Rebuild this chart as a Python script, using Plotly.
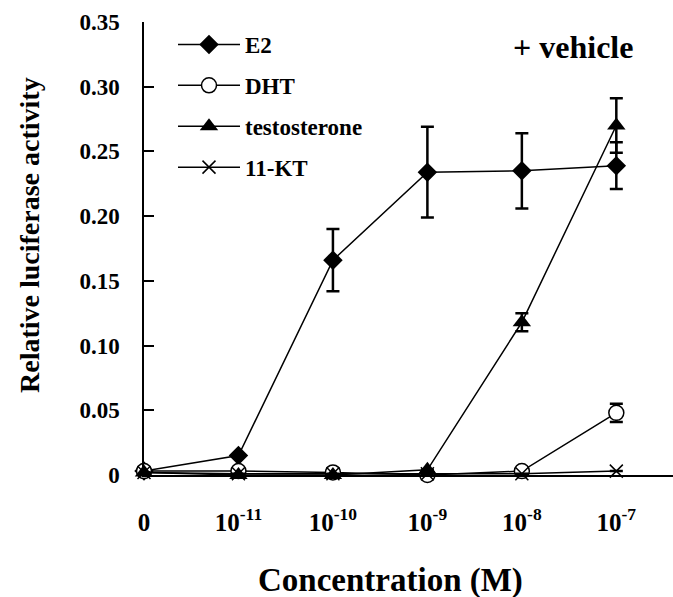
import plotly.graph_objects as go

# Concentration steps (category positions on the x axis)
conc_labels = ["0", "10<sup>-11</sup>", "10<sup>-10</sup>", "10<sup>-9</sup>",
               "10<sup>-8</sup>", "10<sup>-7</sup>"]
conc_pos = [0, 1, 2, 3, 4, 5]

# Relative luciferase activity per ligand (mean and error)
e2_mean = [0.003, 0.015, 0.166, 0.234, 0.235, 0.239]
e2_err = [0.0, 0.0, 0.024, 0.035, 0.029, 0.018]
dht_mean = [0.003, 0.003, 0.002, 0.000, 0.003, 0.048]
dht_err = [0.0, 0.0, 0.0, 0.0, 0.0, 0.007]
testo_mean = [0.002, 0.000, 0.000, 0.004, 0.118, 0.270]
testo_err = [0.0, 0.0, 0.0, 0.0, 0.007, 0.021]
kt_mean = [0.002, 0.001, 0.001, 0.001, 0.001, 0.003]
kt_err = [0.0, 0.0, 0.0, 0.0, 0.0, 0.0]

y_ticks = [0, 0.05, 0.10, 0.15, 0.20, 0.25, 0.30, 0.35]
y_tick_text = ["0", "0.05", "0.10", "0.15", "0.20", "0.25", "0.30", "0.35"]

W, H = 673, 597
M_L, M_R, M_T, M_B = 144, 0, 22, 122
FONT = "Liberation Serif"


def px_to_paper(px, py):
    pw = W - M_L - M_R
    ph = H - M_T - M_B
    return (px - M_L) / pw, (H - M_B - py) / ph


series = [
    ("E2", e2_mean, e2_err, dict(symbol="diamond", size=15, color="black",
                                  line=dict(color="black", width=0))),
    ("DHT", dht_mean, dht_err, dict(symbol="circle", size=15, color="white",
                                     line=dict(color="black", width=1.5))),
    ("testosterone", testo_mean, testo_err, dict(symbol="triangle-up", size=16,
                                                  color="black",
                                                  line=dict(color="black", width=0))),
    ("11-KT", kt_mean, kt_err, dict(symbol="x-thin", size=13, color="black",
                                     line=dict(color="black", width=1.5))),
]

fig = go.Figure()
for i, (name, mean, err, marker) in enumerate(series):
    fig.add_trace(go.Scatter(
        x=conc_pos, y=mean, name=name, mode="lines+markers",
        legendgroup=name,
        line=dict(color="black", width=1.5),
        marker=marker,
        error_y=dict(type="data", array=err, visible=True, color="black",
                     thickness=2.5, width=6.5),
        cliponaxis=False,
    ))

lx, ly = px_to_paper(173, 23)
fig.update_layout(
    width=W, height=H,
    margin=dict(l=M_L, r=M_R, t=M_T, b=M_B),
    paper_bgcolor="white", plot_bgcolor="white",
    font=dict(family=FONT, size=21, color="black", weight="bold"),
    showlegend=True,
    legend=dict(x=lx, y=ly, xanchor="left", yanchor="top",
                bgcolor="rgba(0,0,0,0)", borderwidth=0,
                font=dict(family=FONT, size=23, color="black", weight="bold"),
                itemwidth=62, tracegroupgap=8, traceorder="grouped"),
    xaxis=dict(range=[0, 5.6], tickvals=conc_pos, ticktext=conc_labels,
               showgrid=False, zeroline=False, showline=True,
               linecolor="black", linewidth=1.5, ticks="",
               ticklabelstandoff=24,
               tickfont=dict(family=FONT, size=25, color="black", weight="bold")),
    yaxis=dict(range=[0, 0.35], tickvals=y_ticks, ticktext=y_tick_text,
               showgrid=False, zeroline=False, showline=True,
               linecolor="black", linewidth=1.5, ticks="inside",
               ticklen=10, tickwidth=1.5, tickcolor="black",
               ticklabelstandoff=18,
               tickfont=dict(family=FONT, size=23, color="black", weight="bold")),
)

tx, ty = px_to_paper(30, 235)
fig.add_annotation(text="Relative luciferase activity", x=tx, y=ty,
                   xref="paper", yref="paper", showarrow=False, textangle=-90,
                   xanchor="center", yanchor="middle",
                   font=dict(family=FONT, size=28, color="black", weight="bold"))
cx, cy = px_to_paper(390, 580)
fig.add_annotation(text="Concentration (M)", x=cx, y=cy,
                   xref="paper", yref="paper", showarrow=False,
                   xanchor="center", yanchor="middle",
                   font=dict(family=FONT, size=33, color="black", weight="bold"))
vx, vy = px_to_paper(573, 47)
fig.add_annotation(text="+ vehicle", x=vx, y=vy,
                   xref="paper", yref="paper", showarrow=False,
                   xanchor="center", yanchor="middle",
                   font=dict(family=FONT, size=32, color="black", weight="bold"))

fig.write_html("out.html")
